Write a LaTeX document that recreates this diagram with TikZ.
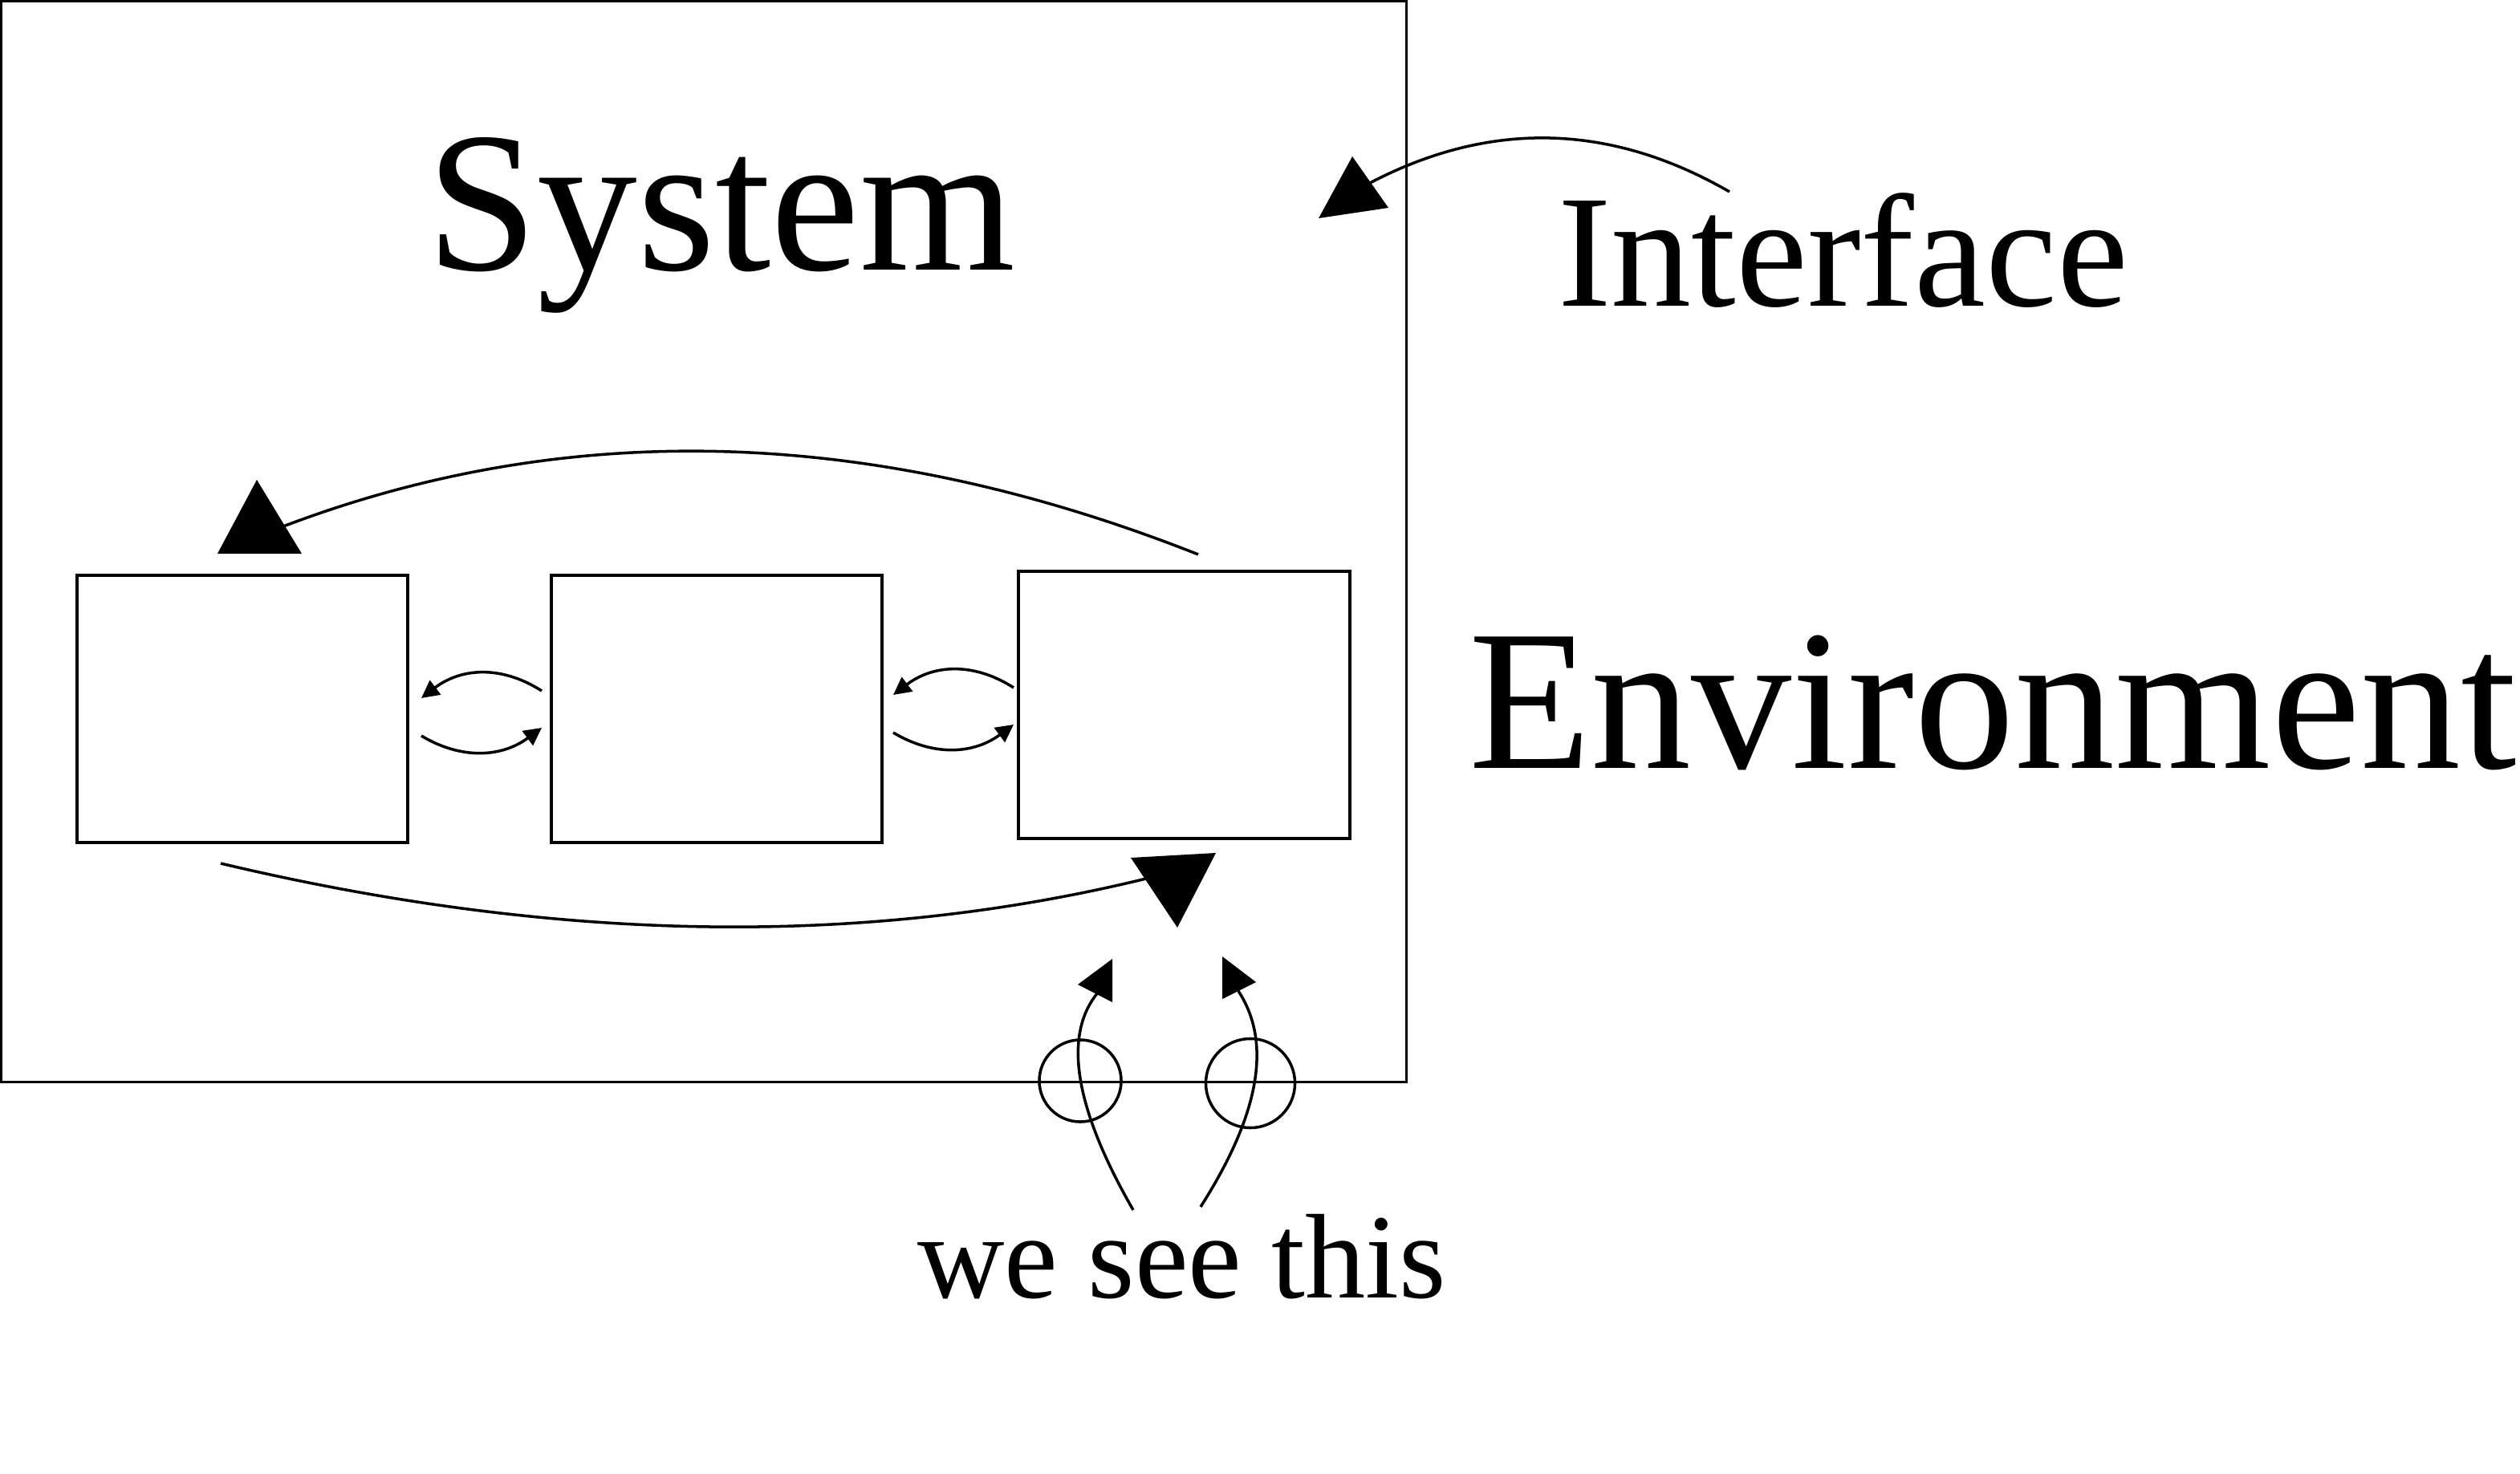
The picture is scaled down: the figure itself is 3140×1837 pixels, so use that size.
\documentclass[tikz,border=0pt]{standalone}
\usepackage{fontspec}
\setmainfont{Liberation Serif}
\usetikzlibrary{arrows.meta}
\begin{document}
\begin{tikzpicture}[x=0.01cm,y=-0.01cm,
  line width=1pt,
  box/.style={draw,rectangle,inner sep=0pt,outer sep=0pt},
  lbl/.style={inner sep=0pt,outer sep=0pt,anchor=base west},
  ring/.style={draw,circle,inner sep=0pt,outer sep=0pt},
  small/.style={-{Triangle[length=0.22cm,width=0.22cm]}},
  head/.style={fill=black,draw=none}]
\useasboundingbox (0,0) rectangle (3140,1837);
% system boundary (interface)
\node[box,minimum width=17.50cm,minimum height=13.46cm] (sys) at (877,675) {};
% inner boxes
\node[box,minimum width=4.12cm,minimum height=3.33cm] (b1) at (302,883.5) {};
\node[box,minimum width=4.12cm,minimum height=3.33cm] (b2) at (893,883.5) {};
\node[box,minimum width=4.13cm,minimum height=3.33cm] (b3) at (1475.5,878.5) {};
% labels
\node[lbl,font=\fontsize{70.9pt}{82pt}\selectfont] (tsys) at (531,337) {System};
\node[lbl,font=\fontsize{56.9pt}{66pt}\selectfont] (tint) at (1941,382) {Interface};
\node[lbl,font=\fontsize{71.1pt}{82pt}\selectfont] (tenv) at (1830,957) {Environment};
\node[lbl,font=\fontsize{42.7pt}{50pt}\selectfont] (tsee) at (1143,1617) {we see this};
% observation circles on the boundary
\node[ring,minimum size=1.02cm] (c1) at (1346,1347) {};
\node[ring,minimum size=1.11cm] (c2) at (1558,1350) {};
% connector end points
\coordinate (g1a) at (675,861); \coordinate (g1b) at (525,870);
\coordinate (g1c) at (525,917); \coordinate (g1d) at (675,907);
\coordinate (g2a) at (1263,857); \coordinate (g2b) at (1113,866);
\coordinate (g2c) at (1113,913); \coordinate (g2d) at (1263,903);
\coordinate (topS) at (1493,691); \coordinate (topE) at (353,656);
\coordinate (botS) at (275,1076); \coordinate (botE) at (1428,1095);
\coordinate (intS) at (2155,239); \coordinate (intE) at (1707,228);
\coordinate (s1S) at (1412,1508); \coordinate (s1E) at (1368,1237);
\coordinate (s2S) at (1496,1504); \coordinate (s2E) at (1543,1235);
% small exchange arrows between boxes
\draw[small] (g1a) .. controls (625,829) and (575,832) .. (g1b);
\draw[small] (g1c) .. controls (575,947) and (625,944) .. (g1d);
\draw[small] (g2a) .. controls (1213,825) and (1163,828) .. (g2b);
\draw[small] (g2c) .. controls (1163,943) and (1213,940) .. (g2d);
% big feedback arrows
\draw (topS) .. controls (1091,532) and (711,520) .. (topE);
\fill[head] (320,598) -- (271,690) -- (376,690) -- cycle;
\draw (botS) .. controls (692,1175) and (1076,1181) .. (botE);
\fill[head] (1467,1156) -- (1409,1069) -- (1515,1063) -- cycle;
% interface pointer
\draw (intS) .. controls (2006,153) and (1856,150) .. (intE);
\fill[head] (1643,272) -- (1685,195) -- (1730,259) -- cycle;
% "we see this" arrows
\draw (s1S) .. controls (1339,1381) and (1324,1290) .. (s1E);
\fill[head] (1386,1195) -- (1343,1227) -- (1386,1249) -- cycle;
\draw (s2S) .. controls (1570,1388) and (1585,1299) .. (s2E);
\fill[head] (1523,1192) -- (1565,1224) -- (1523,1245) -- cycle;
\end{tikzpicture}
\end{document}
